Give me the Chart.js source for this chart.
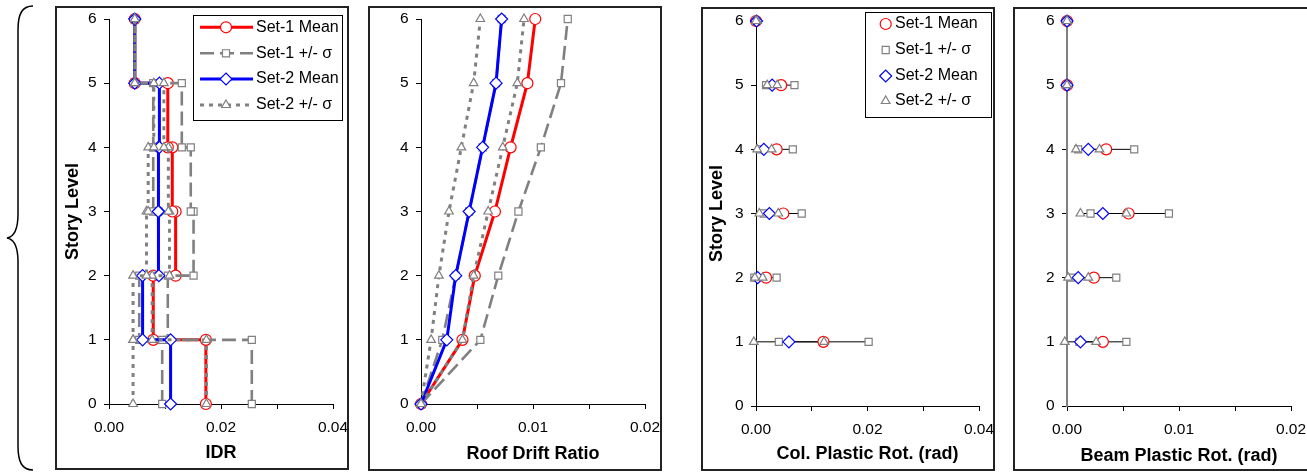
<!DOCTYPE html>
<html>
<head>
<meta charset="utf-8">
<title>Story response profiles</title>
<script src="https://cdn.jsdelivr.net/npm/chart.js@4.4.1/dist/chart.umd.min.js"></script>
<style>
  html, body { margin: 0; padding: 0; background: #fff; }
  body { width: 1307px; height: 472px; position: relative; overflow: hidden; }
  canvas { position: absolute; }
  .frame { position: absolute; border: 2px solid #222; box-sizing: border-box; pointer-events: none; }
  #brace { position: absolute; left: 0; top: 0; }
</style>
</head>
<body>
<svg id="brace" width="40" height="472">
  <path d="M33,6 C22,6 18,14 18,30 L18,214 C18,230 13,237 7,238 C13,239 18,246 18,262 L18,446 C18,462 22,470 33,470"
        fill="none" stroke="#000" stroke-width="1.5"/>
</svg>

<canvas id="idrChart" width="294" height="464" style="left:55px;top:6px"></canvas>
<canvas id="roofChart" width="294" height="465" style="left:368px;top:6px"></canvas>
<canvas id="colChart" width="294" height="464" style="left:701px;top:7px"></canvas>
<canvas id="beamChart" width="300" height="464" style="left:1013px;top:7px"></canvas>

<div class="frame" style="left:55px;top:6px;width:294px;height:464px"></div>
<div class="frame" style="left:368px;top:6px;width:294px;height:465px"></div>
<div class="frame" style="left:701px;top:7px;width:294px;height:464px"></div>
<div class="frame" style="left:1013px;top:7px;width:310px;height:464px"></div>

<script>
// floor levels and stories
const levels = [0, 1, 2, 3, 4, 5, 6];
const stories = [1, 2, 3, 4, 5, 6];
const hingeLevels = [1, 2, 3, 4, 5, 6];

// interstory drift ratio, one value per story (1..6)
const idrSet1Mean  = [0.0173, 0.0079, 0.0119, 0.0113, 0.0105, 0.0046];
const idrSet1Plus  = [0.0255, 0.0105, 0.0151, 0.0146, 0.0130, 0.0046];
const idrSet1Minus = [0.0095, 0.0054, 0.0088, 0.0079, 0.0079, 0.0046];
const idrSet2Mean  = [0.0110, 0.0060, 0.0089, 0.0088, 0.0090, 0.0046];
const idrSet2Plus  = [0.0174, 0.0077, 0.0108, 0.0106, 0.0098, 0.0046];
const idrSet2Minus = [0.0043, 0.0043, 0.0067, 0.0070, 0.0080, 0.0046];

// roof drift ratio at each floor level (0..6)
const rdrSet1Mean  = [0, 0.0037, 0.0048, 0.0066, 0.0080, 0.0095, 0.0102];
const rdrSet1Plus  = [0, 0.0053, 0.0069, 0.0087, 0.0107, 0.0125, 0.0131];
const rdrSet1Minus = [0, 0.0019, 0.0031, 0.0043, 0.0055, 0.0067, 0.0072];
const rdrSet2Mean  = [0, 0.0023, 0.0031, 0.0043, 0.0055, 0.0067, 0.0072];
const rdrSet2Plus  = [0, 0.0037, 0.0047, 0.0060, 0.0073, 0.0086, 0.0092];
const rdrSet2Minus = [0, 0.0009, 0.0016, 0.0025, 0.0036, 0.0047, 0.0053];

// column plastic rotation (rad) at levels 1..6
const colSet1Mean  = [0.0121, 0.0018, 0.0049, 0.0037, 0.0045, 0.0000];
const colSet1Plus  = [0.0202, 0.0037, 0.0082, 0.0066, 0.0069, 0.0000];
const colSet1Minus = [0.0041, -0.0003, 0.0014, 0.0007, 0.0018, 0.0000];
const colSet2Mean  = [0.0059, 0.0003, 0.0024, 0.0014, 0.0029, 0.0001];
const colSet2Plus  = [0.0122, 0.0012, 0.0040, 0.0028, 0.0038, 0.0002];
const colSet2Minus = [-0.0004, -0.0002, 0.0006, 0.0002, 0.0020, 0.0000];

// beam plastic rotation (rad) at levels 1..6
const beamSet1Mean  = [0.0032, 0.0024, 0.0055, 0.0035, 0, 0];
const beamSet1Plus  = [0.0053, 0.0044, 0.0091, 0.0060, 0, 0];
const beamSet1Minus = [0.0011, 0.0004, 0.0021, 0.0010, 0, 0];
const beamSet2Mean  = [0.0012, 0.0010, 0.0032, 0.0019, 0, 0];
const beamSet2Plus  = [0.0026, 0.0019, 0.0053, 0.0029, 0, 0];
const beamSet2Minus = [-0.0002, 0.0001, 0.0012, 0.0008, 0, 0];

const FONT = '"Liberation Sans", Arial, Helvetica, sans-serif';
Chart.defaults.font.family = FONT;
Chart.defaults.color = '#000';

const styles = {
  set1Mean: { label: 'Set-1 Mean',  color: '#ff0000', width: 3,   dash: [],      point: 'circle',   r: 5.5 },
  set1Sd:   { label: 'Set-1 +/- σ', color: '#808080', width: 2.6, dash: [14, 6], point: 'rect',     r: 5 },
  set2Mean: { label: 'Set-2 Mean',  color: '#0000ff', width: 3,   dash: [],      point: 'rectRot',  r: 6 },
  set2Sd:   { label: 'Set-2 +/- σ', color: '#808080', width: 3,   dash: [4, 5],  point: 'triangle', r: 5 }
};

// each story value spans from the floor below up to the floor above
function stepProfile(values) {
  const pts = [];
  stories.forEach((s, i) => {
    pts.push({ x: values[i], y: s - 1 }, { x: values[i], y: s });
  });
  return pts;
}

function profile(values, ys) {
  return values.map((v, i) => ({ x: v, y: ys[i] }));
}

// thin black spans from -σ to +σ at every level
function spans(pairs, ys) {
  const pts = [];
  ys.forEach((y, i) => {
    pairs.forEach(([lo, hi]) => {
      pts.push({ x: lo[i], y: y }, { x: hi[i], y: y }, { x: null, y: null });
    });
  });
  return pts;
}

function series(style, data, showLine, order) {
  return {
    label: style.label,
    data: data,
    showLine: showLine,
    borderColor: style.color,
    borderWidth: style.width,
    borderDash: style.dash,
    pointStyle: style.point,
    pointRadius: style.r,
    pointHoverRadius: style.r,
    pointBorderColor: style.color,
    pointBackgroundColor: '#fff',
    pointBorderWidth: 1.2,
    clip: false,
    order: order
  };
}

const boxLegend = {
  id: 'boxLegend',
  afterDraw(chart, args, opts) {
    if (!opts || !opts.box) return;
    const ctx = chart.ctx;
    const [x1, y1, x2, y2] = opts.box;
    ctx.save();
    ctx.fillStyle = '#fff';
    ctx.fillRect(x1, y1, x2 - x1, y2 - y1);
    ctx.strokeStyle = '#000';
    ctx.lineWidth = 1;
    ctx.strokeRect(x1 + 0.5, y1 + 0.5, x2 - x1, y2 - y1);
    opts.items.forEach((st, i) => {
      const y = opts.rows[i];
      if (opts.line) {
        ctx.beginPath();
        ctx.setLineDash(st.dash);
        ctx.strokeStyle = st.color;
        ctx.lineWidth = st.width;
        ctx.moveTo(opts.line[0], y);
        ctx.lineTo(opts.line[1], y);
        ctx.stroke();
        ctx.setLineDash([]);
      }
      ctx.fillStyle = '#fff';
      ctx.strokeStyle = st.color;
      ctx.lineWidth = 1.2;
      Chart.helpers.drawPoint(ctx, { pointStyle: st.point, radius: st.r, borderWidth: 1.2, rotation: 0 }, opts.markerX, y);
      ctx.fillStyle = '#000';
      ctx.font = '16px ' + FONT;
      ctx.textBaseline = 'middle';
      ctx.textAlign = 'left';
      ctx.fillText(st.label, opts.textX, y);
    });
    ctx.restore();
  }
};

// fixes the plot rectangle inside each canvas; label overhang is
// already covered by the layout padding, so the scales ask for none
function scalesFor(p) {
  return {
    x: {
      type: 'linear',
      min: 0,
      max: p.xMax,
      afterFit: s => {
        s.height = p.h - p.area.bottom;
        s.paddingLeft = 0;
        s.paddingRight = 0;
      },
      ticks: {
        stepSize: p.xStep,
        font: { size: 15.5 },
        padding: 9.5,
        maxRotation: 0,
        autoSkip: false,
        callback: (v, i) => (i % 2 === 0 ? v.toFixed(2) : '')
      },
      grid: { drawOnChartArea: false, tickLength: 5, color: '#000', tickWidth: 1 },
      border: { color: '#000', width: 1 },
      title: { display: true, text: p.xTitle, font: { size: 18, weight: 'bold' }, padding: { top: 0, bottom: p.xTitlePad } }
    },
    y: {
      type: 'linear',
      min: 0,
      max: 6,
      afterFit: s => {
        s.width = p.area.left;
        s.paddingTop = 0;
        s.paddingBottom = 0;
      },
      ticks: { stepSize: 1, font: { size: 15.5 }, padding: 7.5 },
      grid: { drawOnChartArea: false, tickLength: 5, color: '#000', tickWidth: 1 },
      border: { color: p.yAxisColor || '#000', width: p.yAxisWidth || 1 },
      title: {
        display: !!p.yTitle,
        text: p.yTitle || '',
        font: { size: 18, weight: 'bold' },
        padding: { top: p.yTitlePad || 0, bottom: 0 }
      }
    }
  };
}

function makeChart(id, p, datasets, legend) {
  return new Chart(document.getElementById(id), {
    type: 'scatter',
    data: { datasets: datasets },
    options: {
      responsive: false,
      animation: false,
      events: [],
      layout: { padding: { left: 0, top: p.area.top, right: p.w - p.area.right, bottom: 0 } },
      scales: scalesFor(p),
      plugins: { legend: { display: false }, tooltip: { enabled: false }, boxLegend: legend || {} }
    },
    plugins: [boxLegend]
  });
}

const legendItems = [styles.set1Mean, styles.set1Sd, styles.set2Mean, styles.set2Sd];

// story drift profiles (stepped)
makeChart('idrChart',
  { w: 294, h: 464, area: { left: 54, top: 13, right: 278, bottom: 398 }, xMax: 0.04, xStep: 0.01,
    xTitle: 'IDR', xTitlePad: 6.5, yTitle: 'Story Level', yTitlePad: 7 },
  [
    series(styles.set1Mean, stepProfile(idrSet1Mean), true, 6),
    series(styles.set1Sd, stepProfile(idrSet1Plus), true, 5),
    series(styles.set1Sd, stepProfile(idrSet1Minus), true, 4),
    series(styles.set2Mean, stepProfile(idrSet2Mean), true, 3),
    series(styles.set2Sd, stepProfile(idrSet2Plus), true, 2),
    series(styles.set2Sd, stepProfile(idrSet2Minus), true, 1)
  ],
  { box: [138, 9, 287, 114], rows: [21.3, 47.3, 73, 99], line: [145, 198], markerX: 171, textX: 201, items: legendItems }
);

// roof drift profiles
makeChart('roofChart',
  { w: 294, h: 465, area: { left: 53, top: 13, right: 277, bottom: 398 }, xMax: 0.02, xStep: 0.005,
    xTitle: 'Roof Drift Ratio', xTitlePad: 6.2 },
  [
    series(styles.set1Mean, profile(rdrSet1Mean, levels), true, 6),
    series(styles.set1Sd, profile(rdrSet1Plus, levels), true, 5),
    series(styles.set1Sd, profile(rdrSet1Minus, levels), true, 4),
    series(styles.set2Mean, profile(rdrSet2Mean, levels), true, 3),
    series(styles.set2Sd, profile(rdrSet2Plus, levels), true, 2),
    series(styles.set2Sd, profile(rdrSet2Minus, levels), true, 1)
  ]
);

const spanLine = data => ({
  data: data, showLine: true, borderColor: '#000', borderWidth: 1,
  pointRadius: 0, pointHoverRadius: 0, clip: false, order: 10
});

// column hinge rotations
makeChart('colChart',
  { w: 294, h: 464, area: { left: 55, top: 14, right: 278, bottom: 399 }, xMax: 0.04, xStep: 0.01,
    xTitle: 'Col. Plastic Rot. (rad)', xTitlePad: 6.2, yTitle: 'Story Level', yTitlePad: 5.5 },
  [
    spanLine(spans([[colSet1Minus, colSet1Plus], [colSet2Minus, colSet2Plus]], hingeLevels)),
    series(styles.set1Mean, profile(colSet1Mean, hingeLevels), false, 6),
    series(styles.set1Sd, profile(colSet1Plus, hingeLevels), false, 5),
    series(styles.set1Sd, profile(colSet1Minus, hingeLevels), false, 4),
    series(styles.set2Mean, profile(colSet2Mean, hingeLevels), false, 3),
    series(styles.set2Sd, profile(colSet2Plus, hingeLevels), false, 2),
    series(styles.set2Sd, profile(colSet2Minus, hingeLevels), false, 1)
  ],
  { box: [164, 5, 290, 110], rows: [17, 43, 69, 94], markerX: 184.7, textX: 194, items: legendItems }
);

// beam hinge rotations
makeChart('beamChart',
  { w: 300, h: 464, area: { left: 54, top: 14, right: 278, bottom: 399 }, xMax: 0.02, xStep: 0.005,
    xTitle: 'Beam Plastic Rot. (rad)', xTitlePad: 4.2, yAxisColor: '#808080', yAxisWidth: 2 },
  [
    spanLine(spans([[beamSet1Minus, beamSet1Plus], [beamSet2Minus, beamSet2Plus]], hingeLevels)),
    series(styles.set1Mean, profile(beamSet1Mean, hingeLevels), false, 6),
    series(styles.set1Sd, profile(beamSet1Plus, hingeLevels), false, 5),
    series(styles.set1Sd, profile(beamSet1Minus, hingeLevels), false, 4),
    series(styles.set2Mean, profile(beamSet2Mean, hingeLevels), false, 3),
    series(styles.set2Sd, profile(beamSet2Plus, hingeLevels), false, 2),
    series(styles.set2Sd, profile(beamSet2Minus, hingeLevels), false, 1)
  ]
);
</script>
</body>
</html>
